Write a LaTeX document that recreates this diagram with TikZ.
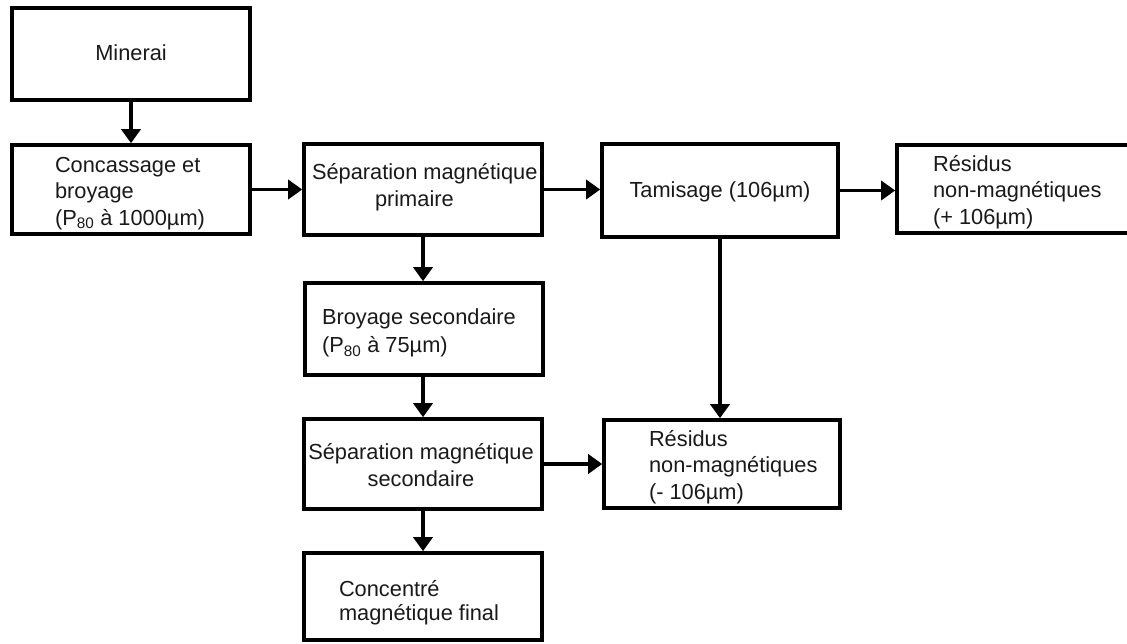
\documentclass[tikz,border=0pt]{standalone}
\usepackage{fontspec}
\setmainfont{Liberation Sans}
\usetikzlibrary{arrows.meta}
\begin{document}
\begin{tikzpicture}[x=1pt,y=-1pt,
  box/.style={draw,line width=3.6pt,inner sep=0pt,outer sep=1.8pt},
  txt/.style={inner sep=0pt,outer sep=0pt,text=black!90,font=\fontsize{21.8}{26.5}\selectfont},
  arr/.style={line width=3.4pt,-{Triangle[width=19pt,length=14pt]}}]
\useasboundingbox (0,0) rectangle (1127,643);
\clip (0,0) rectangle (1127,643);
% boxes
\node[box,minimum width=238pt,minimum height=92pt] (min)  at (131,54) {};
\node[box,minimum width=238pt,minimum height=89pt] (conc) at (131,189.5) {};
\node[box,minimum width=238pt,minimum height=91pt] (sepp) at (423,189.5) {};
\node[box,minimum width=236pt,minimum height=93pt] (tam)  at (720,190.5) {};
\node[box,minimum width=243pt,minimum height=88pt] (resp) at (1018.5,189) {};
\node[box,minimum width=238pt,minimum height=92pt] (broy) at (424,329) {};
\node[box,minimum width=238pt,minimum height=90pt] (seps) at (423,464) {};
\node[box,minimum width=236pt,minimum height=88pt] (resm) at (722,464) {};
\node[box,minimum width=238pt,minimum height=87pt] (fin)  at (423,596.5) {};
% texts
\node[txt,anchor=base] (tmin) at (131,60) {Minerai};
\node[txt,anchor=north west,align=left] (tconc) at (55,153.5)
  {\strut Concassage et\\broyage\\(P\textsubscript{80} à 1000µm)};
\node[txt,anchor=north west,align=left] (tsepp) at (312,161.1)
  {\strut Séparation magnétique\\\hspace*{63pt}primaire};
\node[txt,anchor=base] (ttam) at (720,197) {Tamisage (106µm)};
\node[txt,anchor=north west,align=left] (tresp) at (933,152.5)
  {\strut Résidus\\non-magnétiques\\(+ 106µm)};
\node[txt,anchor=north west,align=left] (tbroy) at (322,306.1)
  {\strut Broyage secondaire\\[1.5pt](P\textsubscript{80} à 75µm)};
\node[txt,anchor=north,align=center] (tseps) at (421,441.1)
  {\strut Séparation magnétique\\secondaire};
\node[txt,anchor=north west,align=left] (tresm) at (649,427.5)
  {\strut Résidus\\non-magnétiques\\(- 106µm)};
\node[txt,anchor=north west,align=left] (tfin) at (339,578.1)
  {\strut Concentré\\[-2.5pt]magnétique final};
% arrows
\draw[arr] (min.south) -- (conc.north);
\draw[arr] (conc.east) -- (conc.east -| sepp.west);
\draw[arr] (sepp.east) -- (sepp.east -| tam.west);
\draw[arr] (tam.east) -- (tam.east -| resp.west);
\draw[arr] (sepp.south) -- (sepp.south |- broy.north);
\draw[arr] (seps.north |- broy.south) -- (seps.north);
\draw[arr] (seps.south) -- (fin.north);
\draw[arr] (seps.east) -- (resm.west);
\draw[arr] (tam.south) -- (tam.south |- resm.north);
\end{tikzpicture}
\end{document}
